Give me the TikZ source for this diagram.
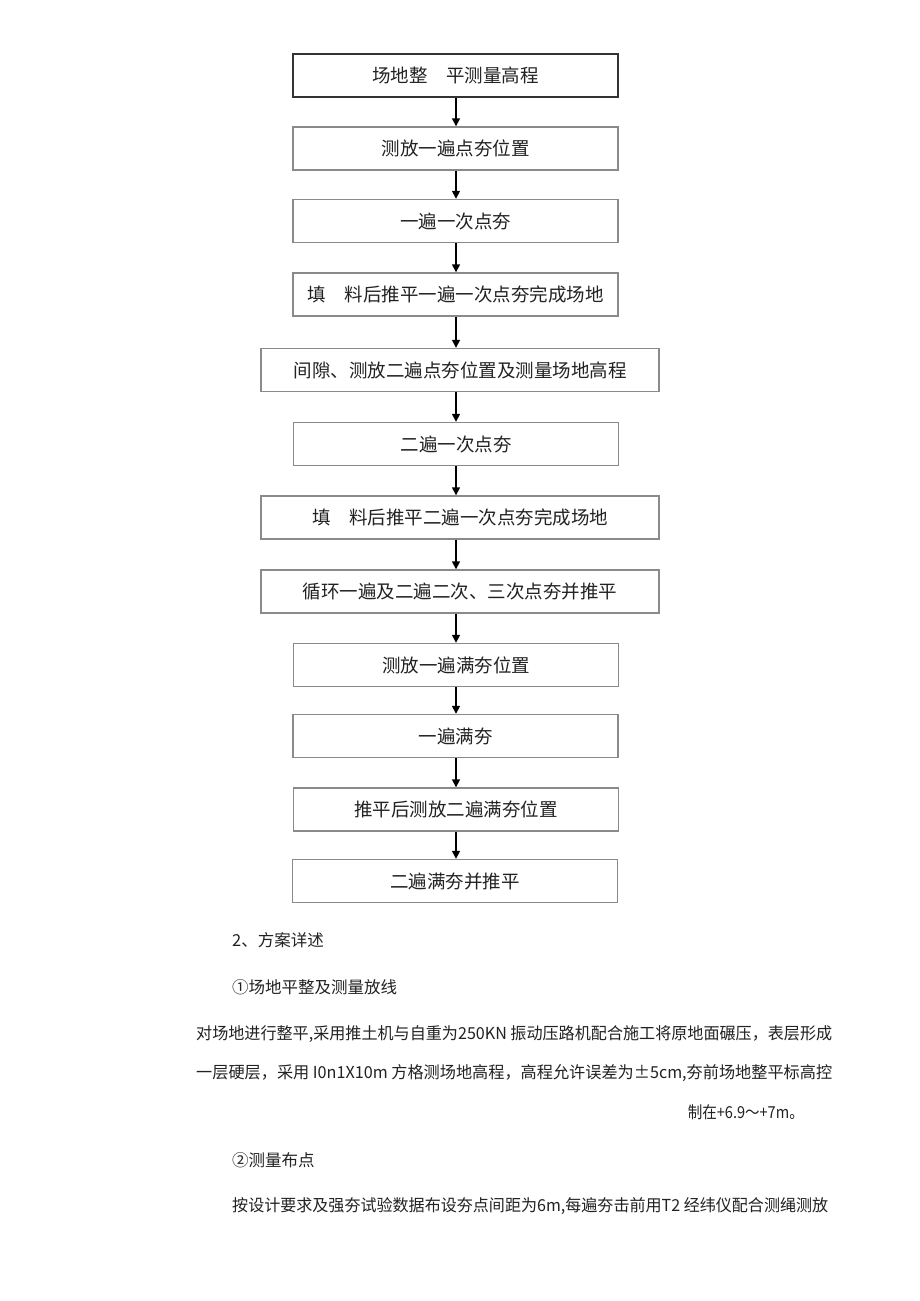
\documentclass[tikz,border=0pt]{standalone}
\usepackage{fontspec}
\usepackage{graphicx}
\setmainfont{Noto Sans CJK SC}
\usetikzlibrary{arrows.meta}
\definecolor{boxline}{HTML}{8A8A8A}
\definecolor{txt}{HTML}{222222}
\tikzset{
  flowbox/.style={draw=boxline, line width=1.4pt, minimum height=43pt, inner sep=0pt,
    font=\fontsize{18.5}{21}\selectfont, text=txt},
  narrowbox/.style={flowbox, minimum width=325pt},
  widebox/.style={flowbox, minimum width=398pt},
  flowarrow/.style={draw=black, line width=1.5pt, -{Triangle[length=8pt,width=8pt]}},
  bodytext/.style={inner sep=0pt, anchor=west, font=\fontsize{16.5}{19}\selectfont, text=txt}
}
\begin{document}
\begin{tikzpicture}[x=1pt,y=-1pt]
\useasboundingbox[fill=white] (0,0) rectangle (920,1301);
\node[narrowbox, draw=black!80] (b1) at (455.5,75.5) {场地整　平测量高程};
\node[narrowbox] (b2) at (455.5,148.5) {测放一遍点夯位置};
\node[narrowbox] (b3) at (455.5,221) {一遍一次点夯};
\node[narrowbox] (b4) at (455.5,294.5) {填　料后推平一遍一次点夯完成场地};
\node[widebox] (b5) at (460,370) {间隙、测放二遍点夯位置及测量场地高程};
\node[narrowbox] (b6) at (456,444) {二遍一次点夯};
\node[widebox] (b7) at (460,517.5) {填　料后推平二遍一次点夯完成场地};
\node[widebox] (b8) at (460,591.5) {循环一遍及二遍二次、三次点夯并推平};
\node[narrowbox] (b9) at (456,665) {测放一遍满夯位置};
\node[narrowbox] (b10) at (455.5,736) {一遍满夯};
\node[narrowbox] (b11) at (456,809.5) {推平后测放二遍满夯位置};
\node[narrowbox] (b12) at (455,881) {二遍满夯并推平};
\coordinate (ax) at (456,0);
\foreach \a/\b in {b1/b2,b2/b3,b3/b4,b4/b5,b5/b6,b6/b7,b7/b8,b8/b9,b9/b10,b10/b11,b11/b12}{
  \draw[flowarrow] (\a.south -| ax) -- (\b.north -| ax);
}
\node[bodytext] (t1) at (232,940) {2、方案详述};
\node[bodytext] (t2) at (232,987) {①场地平整及测量放线};
\node[bodytext] (t3) at (196,1034) {\resizebox{636pt}{\height}{对场地进行整平,采用推土机与自重为250KN 振动压路机配合施工将原地面碾压，表层形成}};
\node[bodytext] (t4) at (196,1073) {\resizebox{636pt}{\height}{一层硬层，采用 I0n1X10m 方格测场地高程，高程允许误差为±5cm,夯前场地整平标高控}};
\node[bodytext, anchor=east] (t5) at (804,1112) {\resizebox{116pt}{\height}{制在+6.9～+7m。}};
\node[bodytext] (t6) at (232,1160) {②测量布点};
\node[bodytext] (t7) at (232,1206) {\resizebox{596pt}{\height}{按设计要求及强夯试验数据布设夯点间距为6m,每遍夯击前用T2 经纬仪配合测绳测放}};
\end{tikzpicture}
\end{document}
